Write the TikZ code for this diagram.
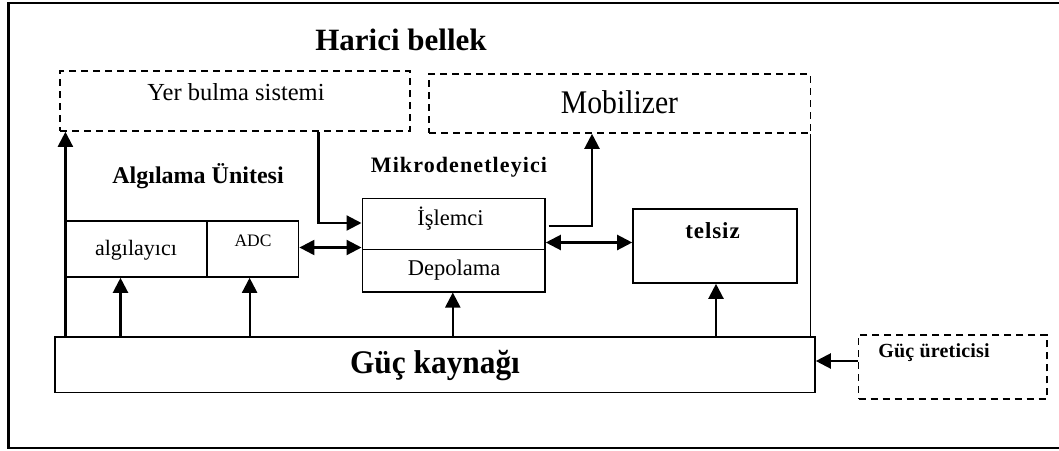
\documentclass[tikz,border=0pt]{standalone}
\usepackage{fontspec}
\setmainfont{Liberation Serif}
\usetikzlibrary{arrows.meta}

\newcommand{\fs}[1]{\fontsize{#1}{#1}\selectfont}

\tikzset{
  box/.style={draw, line width=1.6pt, inner sep=0pt},
  dbox/.style={draw, line width=1.6pt, inner sep=0pt, dash pattern=on 7pt off 5pt},
  lbl/.style={anchor=base, inner sep=0pt},
  arr/.style={line width=2.2pt, -{Triangle[length=15pt,width=15pt]}},
  darr/.style={line width=2.2pt, {Triangle[length=15pt,width=15pt]}-{Triangle[length=15pt,width=15pt]}},
  frame/.style={line width=2.4pt}
}

\begin{document}
\begin{tikzpicture}[x=1pt, y=-1pt]
\useasboundingbox (0,0) rectangle (1059,450);

% outer frame, open on the right
\draw[frame] (1059,3) -- (8.5,3) -- (8.5,448) -- (1059,448);

% blocks
\node[dbox, minimum width=350pt, minimum height=60pt] (yer) at (235,101) {};
\node[dbox, minimum width=381.5pt, minimum height=59pt] (mob) at (619.75,103.5) {};
\node[box, minimum width=141.6pt, minimum height=56pt] (alg) at (136.2,249) {};
\node[box, minimum width=91.6pt, minimum height=56pt] (adc) at (252.8,249) {};
\node[box, minimum width=182.7pt, minimum height=51pt] (isl) at (453.65,223.8) {};
\node[box, minimum width=182.7pt, minimum height=42.4pt] (dep) at (453.65,270.5) {};
\node[box, minimum width=164pt, minimum height=74pt] (tel) at (715,246) {};
\node[box, minimum width=760pt, minimum height=55.5pt] (guc) at (435,364.75) {};
\node[dbox, minimum width=188.4pt, minimum height=64pt] (ure) at (952.8,367) {};

% texts
\node[lbl] (t-harici) at (401,50.7) {\fs{31}\bfseries Harici bellek};
\node[lbl] (t-yer) at (236,100) {\fs{24.5}Yer bulma sistemi};
\node[lbl] (t-mob) at (619.5,113.3) {\scalebox{0.9}[1]{\fs{33}Mobilizer}};
\node[lbl] (t-alg) at (198,183.3) {\fs{24}\bfseries Algılama Ünitesi};
\node[lbl] (t-mik) at (459,172.3) {\fs{22}\bfseries\addfontfeature{LetterSpace=5}Mikrodenetleyici};
\node[lbl] (t-algc) at (136,255) {\fs{22}algılayıcı};
\node[lbl] (t-adc) at (253,246.7) {\fs{17.5}ADC};
\node[lbl] (t-isl) at (450.5,225) {\fs{22.5}İşlemci};
\node[lbl] (t-dep) at (454,275) {\fs{22.5}Depolama};
\node[lbl] (t-tel) at (712.5,238.3) {\fs{23}\bfseries\addfontfeature{LetterSpace=4}telsiz};
\node[lbl] (t-guc) at (435,373.3) {\scalebox{0.95}[1]{\fs{33}\bfseries Güç kaynağı}};
\node[lbl] (t-ure) at (934,357.3) {\fs{20}\bfseries\addfontfeature{LetterSpace=1}Güç üreticisi};

% helper columns / rows for the connectors
\coordinate (xa) at (65.4,0);
\coordinate (xb) at (120.5,0);
\coordinate (xc) at (249.6,0);
\coordinate (xd) at (452.8,0);
\coordinate (xe) at (716,0);
\coordinate (xf) at (318.5,0);
\coordinate (xg) at (592,0);
\coordinate (xh) at (810.5,0);
\coordinate (ya) at (0,223);
\coordinate (yb) at (0,247.5);
\coordinate (yc) at (0,242.5);
\coordinate (yd) at (0,226);
\coordinate (ye) at (0,361);
\coordinate (mstart) at (548.5,226);

% power lines
\draw[arr] (guc.north -| xa) -- (yer.south -| xa);
\draw[arr] (guc.north -| xb) -- (alg.south -| xb);
\draw[arr] (guc.north -| xc) -- (adc.south -| xc);
\draw[arr] (guc.north -| xd) -- (dep.south -| xd);
\draw[arr] (guc.north -| xe) -- (tel.south -| xe);
\draw[arr] (ure.west |- ye) -- (guc.east |- ye);

% data paths
\draw[arr] (yer.south -| xf) -- (xf |- ya) -- (isl.west |- ya);
\draw[darr] (adc.east |- yb) -- (isl.west |- yb);
\draw[darr] (isl.east |- yc) -- (tel.west |- yc);
\draw[arr] (mstart) -- (xg |- yd) -- (mob.south -| xg);

% right side of the microcontroller area
\draw[line width=1.6pt] (mob.south -| xh) -- (guc.north -| xh);
\end{tikzpicture}
\end{document}
